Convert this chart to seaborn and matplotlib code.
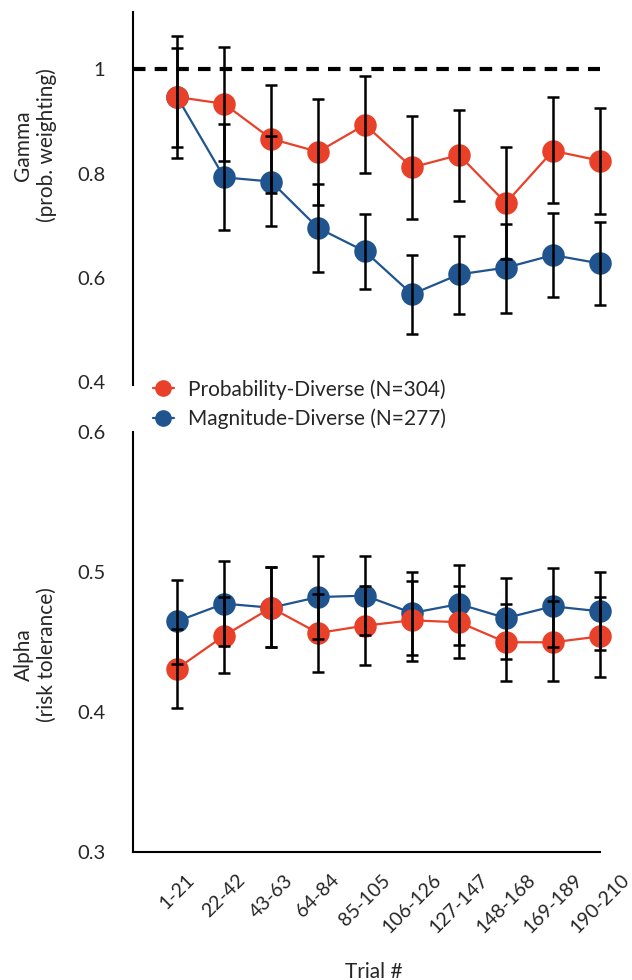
import numpy as np
import pandas as pd
import matplotlib
matplotlib.use("Agg")
import matplotlib.pyplot as plt
from matplotlib.lines import Line2D
import seaborn as sns

trials = ["1-21", "22-42", "43-63", "64-84", "85-105", "106-126",
          "127-147", "148-168", "169-189", "190-210"]
groups = ["Probability-Diverse (N=304)", "Magnitude-Diverse (N=277)"]

# Gamma (probability weighting)
gamma_prob = [0.947, 0.934, 0.867, 0.842, 0.894, 0.812, 0.836, 0.744, 0.844, 0.825]
gamma_prob_lo = [0.851, 0.825, 0.763, 0.740, 0.801, 0.713, 0.748, 0.636, 0.743, 0.722]
gamma_prob_hi = [1.041, 1.043, 0.971, 0.944, 0.988, 0.910, 0.923, 0.851, 0.947, 0.926]
gamma_mag = [0.947, 0.793, 0.785, 0.696, 0.651, 0.569, 0.607, 0.620, 0.644, 0.628]
gamma_mag_lo = [0.831, 0.692, 0.700, 0.612, 0.579, 0.493, 0.531, 0.533, 0.563, 0.548]
gamma_mag_hi = [1.064, 0.896, 0.872, 0.781, 0.722, 0.644, 0.681, 0.704, 0.724, 0.708]

# Alpha (risk tolerance)
alpha_prob = [0.431, 0.4545, 0.4745, 0.4564, 0.4617, 0.4655, 0.4641, 0.4498, 0.4498, 0.454]
alpha_prob_lo = [0.4029, 0.4279, 0.4464, 0.4283, 0.4338, 0.4366, 0.4386, 0.4224, 0.4219, 0.4250]
alpha_prob_hi = [0.4593, 0.4821, 0.5033, 0.4843, 0.4898, 0.4938, 0.4902, 0.4774, 0.4790, 0.4821]
alpha_mag = [0.4648, 0.4774, 0.4745, 0.4821, 0.4831, 0.4707, 0.4771, 0.4671, 0.4755, 0.4719]
alpha_mag_lo = [0.4345, 0.4474, 0.4464, 0.4524, 0.4552, 0.4405, 0.4481, 0.4379, 0.4464, 0.4441]
alpha_mag_hi = [0.4945, 0.5076, 0.5033, 0.5112, 0.5112, 0.4998, 0.5048, 0.4957, 0.5029, 0.5000]

RED = "#E9402A"
BLUE = "#1F548F"
palette = {groups[0]: RED, groups[1]: BLUE}

sns.set_style("white")
plt.rcParams["font.family"] = ["Lato", "DejaVu Sans"]

W, H = 632, 980
fig = plt.figure(figsize=(W / 100, H / 100), dpi=100)

def frac(l, t, r, b):
    return [l / W, 1 - b / H, (r - l) / W, (b - t) / H]

ax1 = fig.add_axes(frac(133, 12, 614, 385))
ax2 = fig.add_axes(frac(133, 432, 614, 852))

XMIN, XMAX = -0.94, 9.3
TICK_FS = 14.5
LABEL_FS = 15

def panel(ax, prob, plo, phi, mag, mlo, mhi):
    df = pd.DataFrame({
        "trial": trials * 2,
        "value": list(mag) + list(prob),
        "group": [groups[1]] * len(trials) + [groups[0]] * len(trials),
    })
    sns.pointplot(data=df, x="trial", y="value", hue="group",
                  hue_order=[groups[1], groups[0]], order=trials,
                  palette=palette, errorbar=None, dodge=False,
                  markers="o", markersize=15, linewidth=1.6, ax=ax)
    x = np.arange(len(trials))
    for m, lo, hi in ((mag, mlo, mhi), (prob, plo, phi)):
        m = np.asarray(m); lo = np.asarray(lo); hi = np.asarray(hi)
        ax.errorbar(x, m, yerr=[m - lo, hi - m], fmt="none", ecolor="black",
                    elinewidth=1.8, capsize=4.5, capthick=1.8, zorder=6,
                    clip_on=False)
    for ln in ax.lines:
        ln.set_clip_on(False)
    if ax.get_legend() is not None:
        ax.get_legend().remove()
    ax.set_xlim(XMIN, XMAX)
    ax.tick_params(axis="both", length=0, labelsize=TICK_FS, pad=20)
    for s in ("top", "right"):
        ax.spines[s].set_visible(False)
    ax.spines["left"].set_color("black")
    ax.spines["left"].set_linewidth(1.5)

panel(ax1, gamma_prob, gamma_prob_lo, gamma_prob_hi, gamma_mag, gamma_mag_lo, gamma_mag_hi)
panel(ax2, alpha_prob, alpha_prob_lo, alpha_prob_hi, alpha_mag, alpha_mag_lo, alpha_mag_hi)

# top panel
ax1.hlines(1.0, XMIN, 9.0, colors="black", linestyles=(0, (3, 2.2)), linewidth=3, zorder=1)
ax1.set_ylim(0.395, 1.11)
ax1.set_yticks([0.4, 0.6, 0.8, 1.0])
ax1.set_yticklabels(["0.4", "0.6", "0.8", "1"])
ax1.spines["bottom"].set_visible(False)
ax1.set_xticks([])
ax1.set_xlabel("")
ax1.set_ylabel("Gamma\n(prob. weighting)", fontsize=LABEL_FS, linespacing=1.2)
ax1.yaxis.set_label_coords(-0.158, 0.642)

# bottom panel
ax2.set_ylim(0.3, 0.6)
ax2.set_yticks([0.3, 0.4, 0.5, 0.6])
ax2.set_yticklabels(["0.3", "0.4", "0.5", "0.6"])
ax2.spines["bottom"].set_color("black")
ax2.spines["bottom"].set_linewidth(1.5)
ax2.spines["bottom"].set_bounds(XMIN, 9.0)
ax2.set_xticks(range(len(trials)))
ax2.set_xticklabels(trials, rotation=45, ha="center", va="top", fontsize=14)
ax2.tick_params(axis="x", pad=14)
ax2.set_xlabel("Trial #", fontsize=LABEL_FS, labelpad=18)
ax2.set_ylabel("Alpha\n(risk tolerance)", fontsize=LABEL_FS, linespacing=1.2)
ax2.yaxis.set_label_coords(-0.158, 0.469)

handles = [Line2D([], [], color=RED, marker="o", markersize=11, linewidth=1.6),
           Line2D([], [], color=BLUE, marker="o", markersize=11, linewidth=1.6)]
fig.legend(handles, groups, loc="upper left", bbox_to_anchor=(153 / W, 1 - 379 / H),
           frameon=False, fontsize=15, handlelength=1.0, handletextpad=0.67,
           labelspacing=0.42, borderpad=0, borderaxespad=0)

fig.savefig("out.png", dpi=100)
